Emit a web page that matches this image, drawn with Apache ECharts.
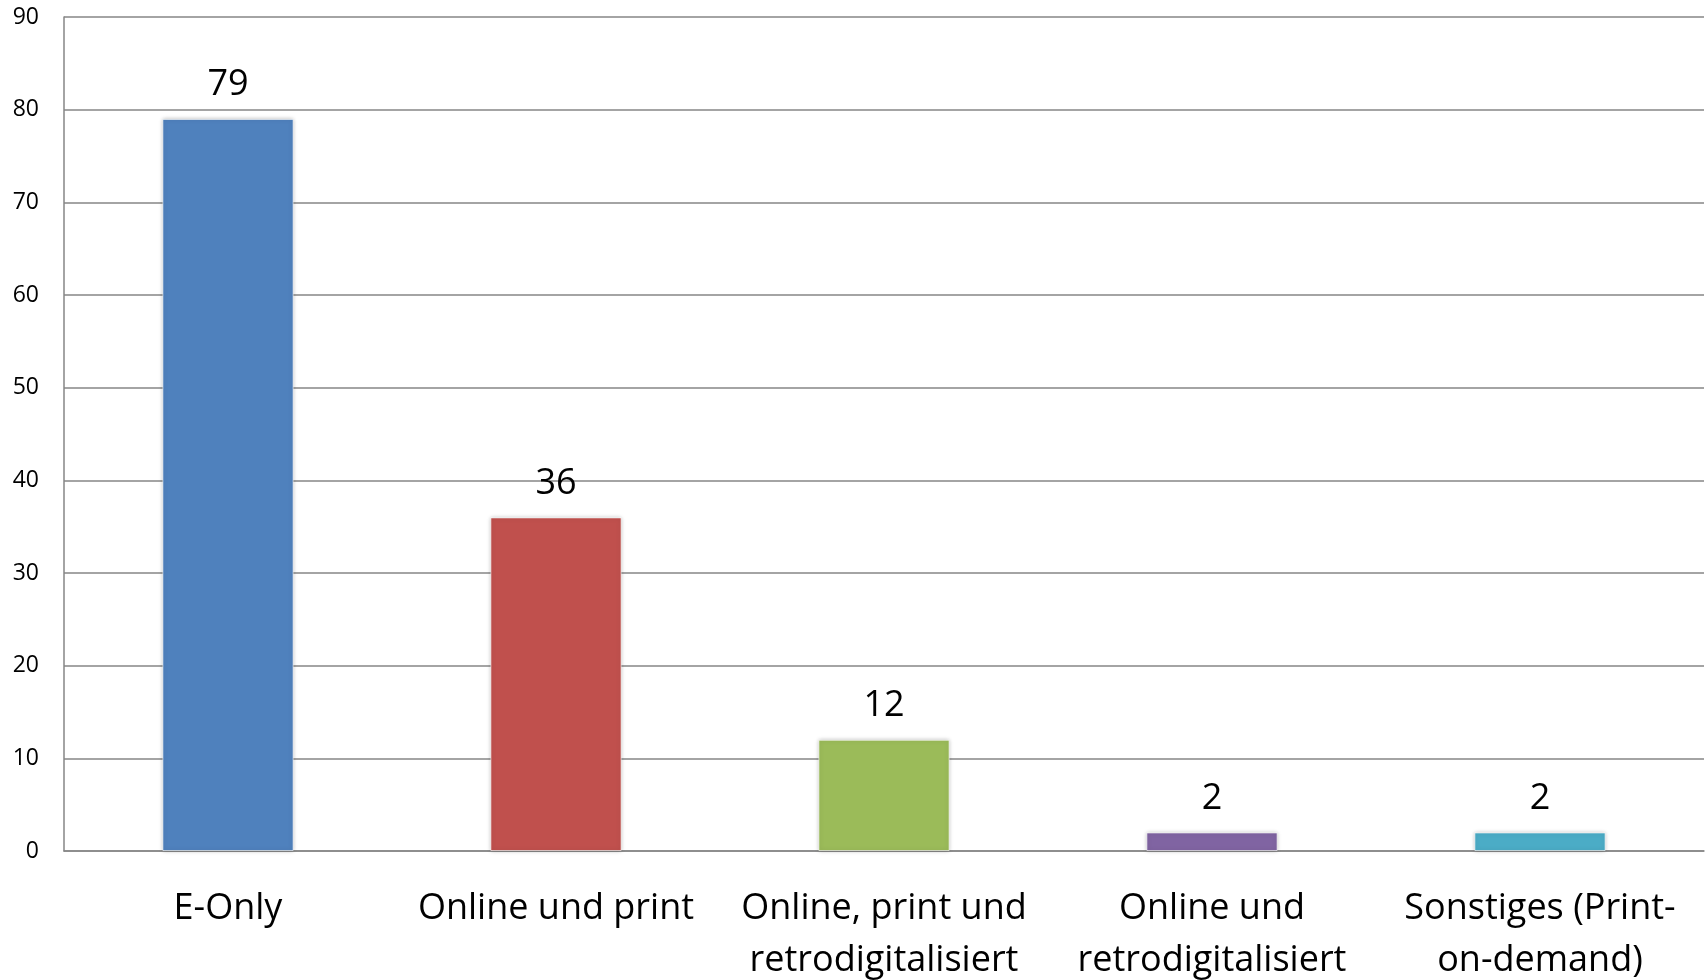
<!DOCTYPE html>
<html>
<head>
<meta charset="utf-8">
<script src="https://cdn.jsdelivr.net/npm/echarts@6/dist/echarts.min.js"></script>
<style>
  html, body { margin: 0; padding: 0; background: #fff; }
  #chart { width: 1708px; height: 980px; }
</style>
</head>
<body>
<div id="chart"></div>
<script>
var categories = ['E-Only', 'Online und print', 'Online, print und\nretrodigitalisiert', 'Online und\nretrodigitalisiert', 'Sonstiges (Print-\non-demand)'];
var values = [79, 36, 12, 2, 2];
var barColors = ['#4F81BD', '#C0504D', '#9BBB59', '#8064A2', '#4BACC6'];

var fontName = '"Open Sans", "Liberation Sans", sans-serif';

var myChart = echarts.init(document.getElementById('chart'));
myChart.setOption({
    animation: false,
    grid: { left: 64, right: 4, top: 17, bottom: 129, outerBoundsMode: 'none' },
    xAxis: {
        type: 'category',
        data: categories,
        axisLine: { lineStyle: { color: '#868686', width: 1.5 } },
        axisTick: { show: false },
        axisLabel: {
            color: '#000',
            fontFamily: fontName,
            fontSize: 36,
            lineHeight: 52,
            margin: 32,
            interval: 0
        }
    },
    yAxis: {
        type: 'value',
        min: 0,
        max: 90,
        interval: 10,
        axisLine: { show: true, lineStyle: { color: '#868686', width: 1.5 } },
        axisTick: { show: false },
        axisLabel: { color: '#000', fontFamily: fontName, fontSize: 23, margin: 25 },
        splitLine: { lineStyle: { color: '#868686', width: 1.5 } }
    },
    series: [{
        type: 'bar',
        barWidth: '40%',
        data: values.map(function (v, i) {
            return { value: v, itemStyle: { color: barColors[i] } };
        }),
        itemStyle: {
            borderColor: 'rgba(255,255,255,0.6)',
            borderWidth: 1,
            shadowBlur: 4,
            shadowColor: 'rgba(0,0,0,0.25)'
        },
        label: {
            show: true,
            position: 'top',
            distance: 16,
            color: '#000',
            fontFamily: fontName,
            fontSize: 36
        }
    }]
});
</script>
</body>
</html>
